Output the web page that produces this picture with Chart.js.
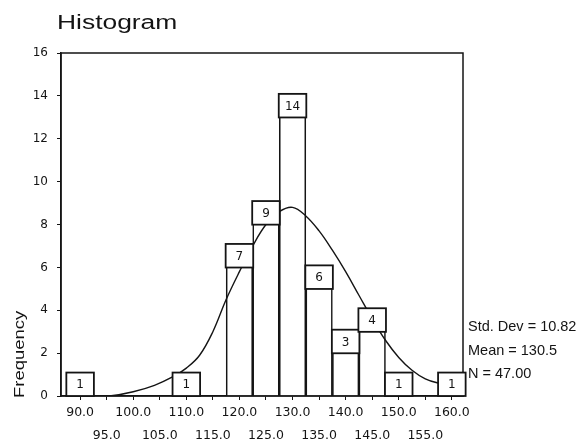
<!DOCTYPE html>
<html>
<head>
<meta charset="utf-8">
<script src="https://cdn.jsdelivr.net/npm/chart.js@4/dist/chart.umd.min.js"></script>
<style>
  html, body { margin: 0; padding: 0; background: #fff; }
</style>
</head>
<body>
<canvas id="histChart" width="581" height="445"></canvas>
<script>
// bin midpoints and frequencies
const binMids = [90, 95, 100, 105, 110, 115, 120, 125, 130, 135, 140, 145, 150, 155, 160];
const counts = [1, 0, 0, 0, 1, 0, 7, 9, 14, 6, 3, 4, 1, 0, 1];

// normal curve
const curveX = [92.5, 95.5, 100, 104, 107.5, 110, 112.5, 115, 117.5, 120, 122.5, 125, 127.5, 130, 132.5, 135, 137.5, 140, 142.5, 145, 147.5, 150, 152.5, 155, 157.5, 160];
const curveY = [0, 0, 0.2, 0.5, 0.9, 1.3, 1.9, 3.0, 4.5, 5.8, 7.0, 8.0, 8.6, 8.8, 8.4, 7.7, 6.8, 5.8, 4.7, 3.6, 2.6, 1.8, 1.2, 0.8, 0.6, 0.5];

const yTicks = [0, 2, 4, 6, 8, 10, 12, 14, 16];
const statLines = ['Std. Dev = 10.82', 'Mean = 130.5', 'N = 47.00'];

const ink = '#141414';

function stretchText(ctx, text, x, y, sx, angle) {
    ctx.save();
    ctx.translate(x, y);
    if (angle) ctx.rotate(angle);
    ctx.scale(sx, 1);
    ctx.fillText(text, 0, 0);
    ctx.restore();
}

const extras = {
    id: 'extras',
    afterDatasetsDraw(chart) {
        const {ctx, chartArea: a, scales: {x, y}} = chart;
        ctx.save();

        // box round the plot
        ctx.strokeStyle = ink;
        ctx.lineWidth = 1.5;
        ctx.strokeRect(a.left, a.top, a.right - a.left, a.bottom - a.top);

        // count boxes on top of bars
        const w = x.getPixelForValue(binMids[1]) - x.getPixelForValue(binMids[0]) + 1;
        ctx.font = '12px "DejaVu Sans", sans-serif';
        ctx.textAlign = 'center';
        ctx.textBaseline = 'middle';
        ctx.lineWidth = 1.8;
        counts.forEach((c, i) => {
            if (!c) return;
            const cx = x.getPixelForValue(binMids[i]);
            const top = y.getPixelForValue(c) - 2;
            const h = Math.min(y.getPixelForValue(0) - y.getPixelForValue(1.1), y.getPixelForValue(0) - top);
            ctx.fillStyle = '#fff';
            ctx.fillRect(cx - w / 2, top, w, h);
            ctx.strokeRect(cx - w / 2, top, w, h);
            ctx.fillStyle = ink;
            ctx.fillText(String(c), cx, top + h / 2 + 1);
        });

        ctx.fillStyle = ink;
        ctx.textAlign = 'left';
        ctx.textBaseline = 'alphabetic';

        // title
        ctx.font = '20px "Liberation Sans", Arial, sans-serif';
        stretchText(ctx, 'Histogram', 57, 29, 1.32, 0);

        // y axis title
        ctx.font = '14px "Liberation Sans", Arial, sans-serif';
        stretchText(ctx, 'Frequency', 24, 398, 1.32, -Math.PI / 2);

        // stats
        ctx.font = '14.5px "Liberation Sans", Arial, sans-serif';
        statLines.forEach((s, i) => {
            ctx.fillText(s, 468, 331 + i * 23.5);
        });

        ctx.restore();
    }
};

new Chart(document.getElementById('histChart'), {
    data: {
        datasets: [{
            type: 'line',
            data: curveX.map((v, i) => ({x: v, y: curveY[i]})),
            borderColor: ink,
            borderWidth: 1.4,
            pointRadius: 0,
            tension: 0.4,
            order: 0
        }, {
            type: 'bar',
            data: binMids.map((v, i) => ({x: v, y: counts[i]})),
            backgroundColor: '#fff',
            borderColor: ink,
            borderWidth: 1.6,
            barPercentage: 1,
            categoryPercentage: 1,
            order: 1
        }]
    },
    options: {
        responsive: false,
        animation: false,
        events: [],
        layout: {padding: {left: 0, right: 118, top: 53, bottom: 0}},
        plugins: {legend: {display: false}, tooltip: {enabled: false}},
        scales: {
            x: {
                type: 'linear',
                offset: false,
                min: 86.4,
                max: 162.1,
                afterBuildTicks: s => { s.ticks = binMids.map(v => ({value: v})); },
                afterFit: s => { s.height = 49; },
                grid: {drawOnChartArea: false, offset: false, tickLength: 4, color: ink},
                border: {color: ink, width: 1.5},
                ticks: {
                    autoSkip: false,
                    maxRotation: 0,
                    minRotation: 0,
                    padding: 2,
                    color: ink,
                    font: {family: '"DejaVu Sans", sans-serif', size: 12.5, lineHeight: 1.78},
                    callback: (v, i) => i % 2 ? ['', v.toFixed(1)] : v.toFixed(1)
                }
            },
            y: {
                min: 0,
                max: 16,
                afterBuildTicks: s => { s.ticks = yTicks.map(v => ({value: v})); },
                afterFit: s => { s.width = 61; },
                grid: {drawOnChartArea: false, tickLength: 4, color: ink},
                border: {color: ink, width: 1.5},
                ticks: {
                    padding: 9,
                    color: ink,
                    font: {family: '"DejaVu Sans", sans-serif', size: 12}
                }
            }
        }
    },
    plugins: [extras]
});
</script>
</body>
</html>
